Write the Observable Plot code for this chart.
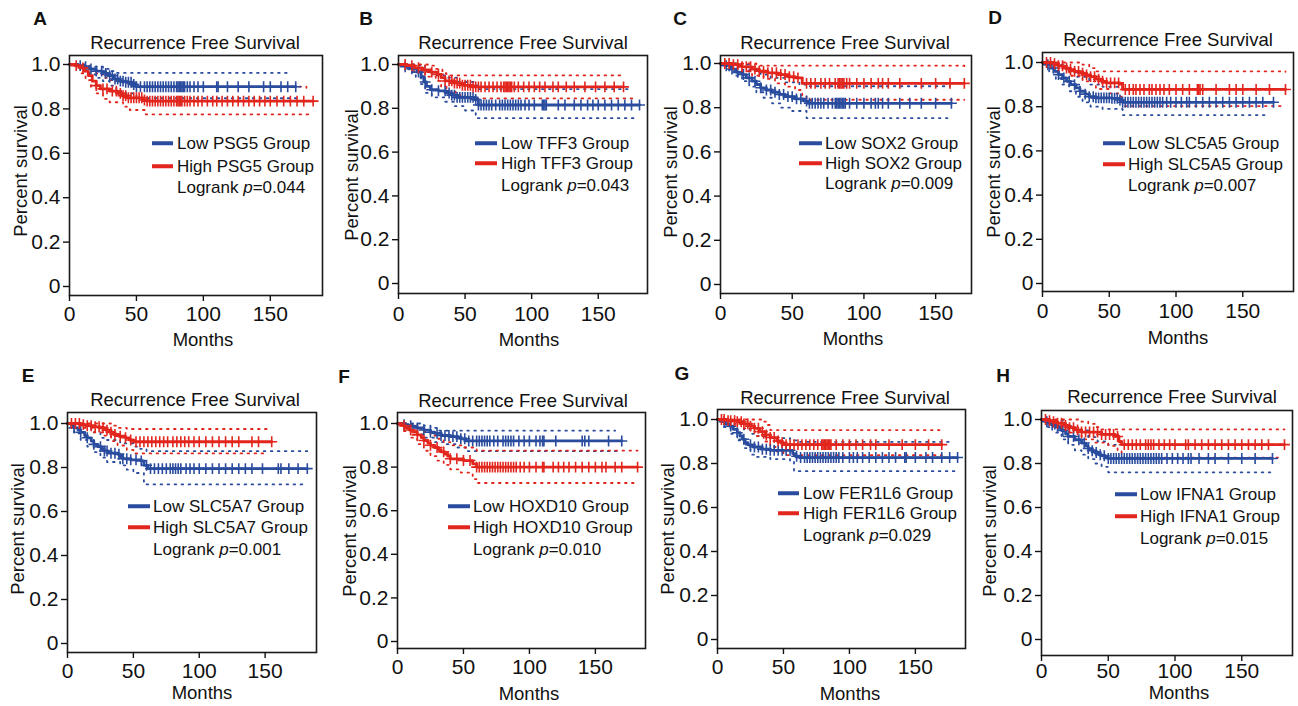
<!DOCTYPE html>
<html><head><meta charset="utf-8">
<script src="https://cdn.jsdelivr.net/npm/d3@7"></script>
<script src="https://cdn.jsdelivr.net/npm/@observablehq/plot@0.6"></script>
<style>
body{margin:0;background:#fff;font-family:"Liberation Sans",Arial,Helvetica,sans-serif;color:#111;}
#root{position:relative;width:1298px;height:706px;overflow:hidden;background:#fff;}
.panel{position:absolute;width:330px;height:356px;}
.panel svg{position:absolute;left:0;top:0;max-width:none;background:transparent;overflow:visible;}
.t{position:absolute;white-space:nowrap;line-height:1;color:#111;}
.c{transform:translate(-50%,-50%);}
.l{transform:translate(0,-50%);}
.rot{transform:translate(-50%,-50%) rotate(-90deg);}
.seg{position:absolute;height:3.5px;transform:translate(0,-50%);}
</style></head>
<body><div id="root"></div>
<script>
// ---------- labels ----------
const panelLetters = ["A","B","C","D","E","F","G","H"];
const geneNames = ["PSG5","TFF3","SOX2","SLC5A5","SLC5A7","HOXD10","FER1L6","IFNA1"];
const pValues = ["0.044","0.043","0.009","0.007","0.001","0.010","0.029","0.015"];
const chartTitle = "Recurrence Free Survival";
const xLabel = "Months";
const yLabel = "Percent survival";
const xTicks = [0, 50, 100, 150];
const xTickLabels = ["0", "50", "100", "150"];
const yTicks = [0, 0.2, 0.4, 0.6, 0.8, 1.0];
const yTickLabels = ["0", "0.2", "0.4", "0.6", "0.8", "1.0"];

// ---------- A: PSG5 ----------
const A_low = [[0,1],[6,0.995],[10,0.99],[15,0.98],[20,0.97],[25,0.96],[29,0.95],[33,0.935],[37,0.925],[42,0.92],[47,0.91],[50,0.9],[169,0.9]];
const A_high = [[0,1],[4,0.995],[8,0.985],[11,0.97],[14,0.95],[17,0.925],[20,0.905],[23,0.89],[30,0.88],[36,0.87],[39,0.86],[43,0.85],[55,0.84],[58,0.835],[182,0.835]];
const A_lowUp = [[0,1],[13,0.99],[25,0.98],[30,0.97],[35,0.962],[164,0.96]];
const A_lowDn = [[0,1],[10,0.97],[15,0.955],[20,0.94],[25,0.925],[30,0.905],[35,0.88],[42,0.87],[50,0.848],[170,0.848]];
const A_highUp = [[0,1],[10,0.995],[15,0.98],[20,0.96],[25,0.94],[30,0.93],[40,0.915],[50,0.9],[177,0.895]];
const A_highDn = [[0,1],[8,0.96],[12,0.93],[16,0.9],[20,0.87],[25,0.845],[30,0.83],[40,0.81],[45,0.795],[57,0.775],[180,0.775]];
const A_lowCens = [8,12,16,20,24,27,30,32,34,36,38,40,42,44,46,48,50,53,56,58,60,62,64,66,68,70,72,74,76,78,80,81,82,83,84,85,86,88,90,93,96,100,110,111,118,126,134,145,150,158,163,169];
const A_highCens = [5,10,20,25,28,32,35,38,40,42,44,46,48,50,52,54,56,58,60,62,64,66,68,70,72,74,76,78,80,81,82,83,84,86,88,90,93,96,99,103,107,110,114,118,122,126,130,134,138,142,146,150,155,160,165,170,175,182];

// ---------- B: TFF3 ----------
const B_low = [[0,1],[5,0.99],[10,0.98],[14,0.965],[17,0.945],[19,0.92],[21,0.9],[24,0.885],[30,0.88],[36,0.87],[40,0.86],[44,0.85],[57,0.84],[60,0.815],[181,0.815]];
const B_high = [[0,1],[6,0.995],[12,0.985],[18,0.975],[24,0.965],[29,0.955],[32,0.94],[35,0.925],[42,0.915],[48,0.905],[55,0.898],[169,0.898]];
const B_lowUp = [[0,1],[15,0.995],[20,0.97],[25,0.95],[35,0.94],[45,0.92],[58,0.905],[60,0.888],[174,0.888]];
const B_lowDn = [[0,1],[8,0.965],[13,0.94],[17,0.91],[20,0.87],[25,0.85],[35,0.83],[42,0.81],[50,0.79],[58,0.755],[178,0.755]];
const B_highUp = [[0,1],[22,0.995],[28,0.98],[33,0.96],[36,0.95],[169,0.95]];
const B_highDn = [[0,1],[10,0.97],[20,0.945],[28,0.925],[32,0.9],[36,0.875],[43,0.86],[50,0.845],[178,0.845]];
const B_lowCens = [5,10,15,20,25,30,35,38,40,42,44,46,48,50,52,54,56,58,60,62,64,66,68,70,73,76,78,80,82,84,86,88,90,92,95,98,102,108,109,110,111,120,125,132,137,142,146,150,155,160,165,170,175,181];
const B_highCens = [5,10,15,20,25,30,35,38,40,42,44,46,48,50,52,54,56,58,60,62,65,68,71,74,77,79,80,81,82,83,84,85,87,90,94,98,102,106,110,116,120,126,132,140,148,155,162,169];

// ---------- C: SOX2 ----------
const C_low = [[0,1],[4,0.99],[7,0.975],[11,0.96],[15,0.95],[18,0.935],[22,0.92],[25,0.905],[28,0.89],[32,0.88],[36,0.87],[41,0.86],[45,0.85],[52,0.84],[58,0.83],[61,0.82],[161,0.82]];
const C_high = [[0,1],[8,0.995],[15,0.985],[22,0.975],[27,0.965],[33,0.958],[40,0.95],[47,0.94],[52,0.935],[57,0.91],[170,0.91]];
const C_lowUp = [[0,1],[12,0.995],[20,0.97],[28,0.95],[35,0.935],[45,0.915],[55,0.905],[60,0.897],[160,0.897]];
const C_lowDn = [[0,1],[6,0.965],[10,0.945],[15,0.92],[20,0.895],[25,0.87],[30,0.845],[36,0.82],[42,0.8],[50,0.785],[60,0.753],[160,0.753]];
const C_highUp = [[0,1],[20,1],[25,0.99],[170,0.988]];
const C_highDn = [[0,1],[8,0.985],[15,0.965],[22,0.945],[30,0.93],[38,0.91],[45,0.895],[52,0.88],[57,0.85],[60,0.836],[170,0.836]];
const C_lowCens = [4,8,12,16,20,24,28,32,35,38,41,44,47,50,53,56,60,62,64,66,68,70,72,75,78,80,81,82,83,84,85,86,87,90,95,100,105,108,110,113,117,125,132,140,150,161];
const C_highCens = [3,6,9,12,15,18,21,24,27,30,33,36,39,42,45,48,51,54,60,63,66,70,73,76,80,82,83,84,85,86,88,90,95,100,105,110,113,117,125,140,150,160,170];

// ---------- D: SLC5A5 ----------
const D_low = [[0,1],[3,0.99],[6,0.975],[9,0.96],[12,0.945],[15,0.93],[18,0.915],[21,0.9],[25,0.885],[28,0.87],[32,0.857],[35,0.845],[40,0.84],[52,0.838],[58,0.83],[60,0.82],[173,0.82]];
const D_high = [[0,1],[8,0.995],[12,0.985],[16,0.975],[20,0.968],[24,0.96],[28,0.952],[32,0.944],[36,0.936],[40,0.925],[44,0.915],[48,0.908],[58,0.902],[60,0.878],[182,0.878]];
const D_lowUp = [[0,1],[10,0.99],[18,0.96],[25,0.935],[35,0.9],[45,0.89],[60,0.88],[173,0.88]];
const D_lowDn = [[0,1],[5,0.96],[10,0.925],[15,0.9],[20,0.87],[25,0.845],[30,0.82],[36,0.8],[45,0.79],[60,0.762],[168,0.762]];
const D_highUp = [[0,1],[25,1],[30,0.99],[35,0.975],[40,0.96],[182,0.958]];
const D_highDn = [[0,1],[10,0.975],[20,0.94],[30,0.915],[40,0.88],[50,0.86],[58,0.845],[60,0.803],[182,0.803]];
const D_lowCens = [4,8,12,16,20,24,28,32,35,38,40,42,44,46,48,50,52,54,56,58,60,62,64,66,68,70,72,74,76,78,80,82,84,86,88,90,93,96,100,104,108,110,115,120,125,130,135,140,145,150,155,160,165,173];
const D_highCens = [3,6,9,12,15,18,21,24,27,30,33,36,39,42,45,48,51,54,57,62,65,68,70,73,76,80,82,85,88,91,95,100,105,110,116,117,118,120,130,140,145,150,160,170,182];

// ---------- E: SLC5A7 ----------
const E_low = [[0,1],[3,0.99],[5,0.98],[8,0.97],[10,0.96],[13,0.945],[15,0.935],[18,0.92],[20,0.905],[23,0.895],[26,0.885],[28,0.875],[31,0.865],[38,0.86],[40,0.85],[42,0.84],[48,0.835],[56,0.83],[58,0.81],[61,0.795],[182,0.795]];
const E_high = [[0,1],[10,0.995],[14,0.99],[20,0.985],[25,0.98],[29,0.97],[32,0.96],[35,0.95],[39,0.942],[44,0.935],[47,0.925],[50,0.917],[155,0.917]];
const E_lowUp = [[0,1],[10,0.99],[18,0.96],[25,0.935],[30,0.925],[40,0.91],[50,0.895],[55,0.885],[60,0.874],[182,0.874]];
const E_lowDn = [[0,1],[5,0.955],[10,0.925],[15,0.895],[20,0.87],[25,0.845],[30,0.825],[40,0.81],[45,0.79],[50,0.775],[58,0.723],[182,0.723]];
const E_highUp = [[0,1],[30,1],[33,0.99],[38,0.98],[45,0.975],[152,0.974]];
const E_highDn = [[0,1],[10,0.98],[20,0.96],[28,0.945],[33,0.92],[38,0.9],[45,0.88],[50,0.864],[152,0.864]];
const E_lowCens = [5,10,15,20,25,28,30,33,36,39,42,45,48,52,56,60,63,66,69,72,75,78,80,82,84,86,90,93,96,100,105,110,115,120,125,130,135,140,148,160,162,168,175,182];
const E_highCens = [3,6,9,12,15,18,21,24,27,30,33,36,40,44,48,52,55,58,61,64,67,70,73,76,80,83,86,89,92,96,100,105,110,115,120,125,130,140,145,155];

// ---------- F: HOXD10 ----------
const F_low = [[0,1],[5,0.995],[8,0.99],[12,0.985],[15,0.98],[20,0.97],[25,0.96],[28,0.955],[33,0.945],[40,0.94],[46,0.935],[48,0.93],[52,0.92],[170,0.92]];
const F_high = [[0,1],[3,0.99],[6,0.98],[9,0.97],[12,0.96],[15,0.948],[18,0.935],[20,0.922],[23,0.91],[25,0.9],[28,0.89],[31,0.88],[33,0.87],[36,0.86],[38,0.85],[40,0.838],[50,0.83],[57,0.815],[60,0.8],[182,0.8]];
const F_lowUp = [[0,1],[15,1],[20,0.99],[25,0.98],[30,0.967],[165,0.967]];
const F_lowDn = [[0,1],[8,0.97],[15,0.95],[20,0.935],[28,0.915],[35,0.905],[45,0.89],[52,0.873],[170,0.873]];
const F_highUp = [[0,1],[8,0.995],[15,0.975],[20,0.96],[25,0.945],[30,0.93],[35,0.915],[40,0.9],[50,0.89],[60,0.876],[182,0.876]];
const F_highDn = [[0,1],[5,0.965],[10,0.935],[15,0.905],[20,0.875],[25,0.85],[30,0.83],[35,0.81],[40,0.79],[48,0.775],[57,0.745],[60,0.727],[182,0.727]];
const F_lowCens = [5,10,15,20,25,30,33,36,39,42,45,48,51,54,57,60,62,64,66,68,70,73,76,80,82,84,86,88,92,96,100,105,108,110,111,120,140,142,145,160,170];
const F_highCens = [5,10,15,20,25,30,35,40,45,50,55,60,62,64,66,68,70,72,74,76,78,80,82,84,86,88,90,93,96,100,105,110,111,118,122,126,130,135,140,145,150,155,158,165,170,182];

// ---------- G: FER1L6 ----------
const G_low = [[0,1],[3,0.99],[6,0.98],[9,0.97],[12,0.955],[15,0.94],[17,0.925],[19,0.91],[21,0.895],[23,0.885],[27,0.875],[33,0.865],[40,0.86],[57,0.845],[59,0.833],[62,0.827],[182,0.827]];
const G_high = [[0,1],[8,0.995],[15,0.99],[20,0.98],[25,0.97],[28,0.96],[32,0.945],[36,0.93],[40,0.918],[45,0.903],[48,0.895],[50,0.886],[170,0.886]];
const G_lowUp = [[0,1],[10,0.995],[15,0.98],[20,0.955],[25,0.935],[30,0.925],[40,0.915],[55,0.905],[60,0.898],[178,0.898]];
const G_lowDn = [[0,1],[5,0.965],[10,0.935],[15,0.905],[20,0.87],[25,0.84],[30,0.83],[40,0.82],[55,0.81],[58,0.765],[182,0.765]];
const G_highUp = [[0,1],[30,1],[35,0.99],[38,0.975],[40,0.952],[170,0.952]];
const G_highDn = [[0,1],[10,0.98],[20,0.96],[25,0.945],[30,0.925],[35,0.9],[40,0.875],[45,0.855],[50,0.838],[170,0.838]];
const G_lowCens = [5,10,15,20,25,28,31,34,37,40,43,46,49,52,55,60,63,66,68,70,72,74,76,78,80,82,84,86,88,90,92,95,100,103,106,110,115,120,125,130,135,142,143,150,158,163,170,176,182];
const G_highCens = [3,5,8,10,13,15,18,20,23,25,28,31,34,37,40,43,46,49,52,55,58,61,64,67,70,73,76,79,80,81,82,83,84,85,86,90,95,100,105,110,116,120,130,140,150,160,170];

// ---------- H: IFNA1 ----------
const H_low = [[0,1],[3,0.99],[5,0.985],[8,0.975],[10,0.968],[13,0.96],[15,0.95],[18,0.935],[20,0.923],[25,0.908],[30,0.893],[33,0.88],[35,0.868],[38,0.858],[40,0.85],[43,0.84],[45,0.835],[48,0.828],[50,0.823],[173,0.823]];
const H_high = [[0,1],[5,0.995],[8,0.99],[12,0.983],[17,0.973],[20,0.963],[25,0.953],[30,0.943],[45,0.932],[55,0.923],[58,0.9],[60,0.886],[182,0.886]];
const H_lowUp = [[0,1],[10,0.995],[18,0.97],[25,0.95],[35,0.92],[42,0.9],[50,0.885],[173,0.885]];
const H_lowDn = [[0,1],[5,0.965],[10,0.94],[15,0.91],[20,0.885],[25,0.86],[30,0.84],[35,0.82],[40,0.8],[45,0.785],[50,0.76],[175,0.76]];
const H_highUp = [[0,1],[25,1],[30,0.99],[35,0.98],[40,0.965],[45,0.955],[182,0.955]];
const H_highDn = [[0,1],[10,0.975],[20,0.94],[30,0.91],[40,0.895],[50,0.88],[57,0.855],[60,0.827],[178,0.827]];
const H_lowCens = [4,8,12,16,20,24,28,32,35,38,41,44,47,50,52,54,56,58,60,62,64,66,68,70,72,74,76,78,80,82,84,86,88,90,94,98,102,106,110,112,118,125,130,140,150,160,173];
const H_highCens = [3,6,9,12,15,18,21,24,27,30,33,36,39,42,45,48,51,54,57,62,65,68,71,74,78,80,82,84,88,92,96,100,108,110,115,120,125,130,135,140,145,150,155,160,165,170,182];

// ---------- assemble ----------
const panelData = [
  {low:A_low, high:A_high, lowUp:A_lowUp, lowDn:A_lowDn, highUp:A_highUp, highDn:A_highDn, lowCens:A_lowCens, highCens:A_highCens},
  {low:B_low, high:B_high, lowUp:B_lowUp, lowDn:B_lowDn, highUp:B_highUp, highDn:B_highDn, lowCens:B_lowCens, highCens:B_highCens},
  {low:C_low, high:C_high, lowUp:C_lowUp, lowDn:C_lowDn, highUp:C_highUp, highDn:C_highDn, lowCens:C_lowCens, highCens:C_highCens},
  {low:D_low, high:D_high, lowUp:D_lowUp, lowDn:D_lowDn, highUp:D_highUp, highDn:D_highDn, lowCens:D_lowCens, highCens:D_highCens},
  {low:E_low, high:E_high, lowUp:E_lowUp, lowDn:E_lowDn, highUp:E_highUp, highDn:E_highDn, lowCens:E_lowCens, highCens:E_highCens},
  {low:F_low, high:F_high, lowUp:F_lowUp, lowDn:F_lowDn, highUp:F_highUp, highDn:F_highDn, lowCens:F_lowCens, highCens:F_highCens},
  {low:G_low, high:G_high, lowUp:G_lowUp, lowDn:G_lowDn, highUp:G_highUp, highDn:G_highDn, lowCens:G_lowCens, highCens:G_highCens},
  {low:H_low, high:H_high, lowUp:H_lowUp, lowDn:H_lowDn, highUp:H_highUp, highDn:H_highDn, lowCens:H_lowCens, highCens:H_highCens}
];

// layout (pixel positions relative to each panel's origin); tp = x tick label padding
const layout = [
  {ox:0,   oy:0,   L:69, R:322, T:55, B:295, y0:286, y1:64, xmax:189, tp:5, title:[195,43], letter:[40,18], ylab:[21,171], xlab:[203,340], leg:[152,173,177,143,166,187]},
  {ox:325, oy:0,   L:73, R:322, T:55, B:293, y0:283, y1:64, xmax:187, tp:7, title:[198,43], letter:[41,18], ylab:[27,175], xlab:[204,340], leg:[150,172,176,143,163,185]},
  {ox:650, oy:0,   L:70, R:321, T:55, B:293, y0:284, y1:63, xmax:175, tp:6, title:[195,43], letter:[30,18], ylab:[21,172], xlab:[203,339], leg:[149,172,175,143,163,183]},
  {ox:970, oy:0,   L:72, R:323, T:52, B:291, y0:283, y1:62, xmax:188, tp:6, title:[198,40], letter:[25,17], ylab:[24,172], xlab:[208,338], leg:[133,155,158,143,164,185]},
  {ox:0,   oy:350, L:67, R:316, T:62, B:302, y0:293, y1:73, xmax:189, tp:5, title:[195,50], letter:[28,25], ylab:[18,179], xlab:[202,343], leg:[128,150,153,156,177,199]},
  {ox:325, oy:350, L:72, R:320, T:62, B:298, y0:291, y1:73, xmax:188, tp:5, title:[198,51], letter:[19,26], ylab:[25,181], xlab:[204,344], leg:[123,145,148,156,177,199]},
  {ox:650, oy:350, L:67, R:315, T:59, B:298, y0:289, y1:69, xmax:188, tp:5, title:[195,48], letter:[32,23], ylab:[18,179], xlab:[200,344], leg:[128,149,153,143,163,185]},
  {ox:970, oy:350, L:71, R:322, T:60, B:305, y0:289, y1:69, xmax:188, tp:2, title:[202,47], letter:[33,25], ylab:[20,181], xlab:[209,343], leg:[145,167,170,144,166,188]}
];

const BLUE = "#2a4c9e";
const RED = "#e2261d";
const PW = 330, PH = 356;
const FONT = "'Liberation Sans', Arial, Helvetica, sans-serif";

function stepAt(curve, t) {
  let v = curve[0][1];
  for (const [tt, s] of curve) { if (tt <= t) v = s; else break; }
  return v;
}

const root = document.getElementById("root");

function addText(parent, txt, x, y, cls, size, extra) {
  const d = document.createElement("div");
  d.className = "t " + cls;
  d.style.left = x + "px";
  d.style.top = y + "px";
  d.style.fontSize = size + "px";
  if (extra) Object.assign(d.style, extra);
  d.innerHTML = txt;
  parent.appendChild(d);
  return d;
}

panelData.forEach((pd, i) => {
  const g = layout[i];
  const panel = document.createElement("div");
  panel.className = "panel";
  panel.style.left = g.ox + "px";
  panel.style.top = g.oy + "px";
  root.appendChild(panel);

  const ci = (data, color) => Plot.line(data, {x: d => d[0], y: d => d[1], curve: "step-after", stroke: color, strokeWidth: 1.8, strokeDasharray: "1.6,5.4"});
  const km = (data, color) => Plot.line(data, {x: d => d[0], y: d => d[1], curve: "step-after", stroke: color, strokeWidth: 2.8});
  const cens = (times, curve, color) => Plot.dot(times, {x: d => d, y: d => stepAt(curve, d), symbol: "plus", r: 3.6, stroke: color, strokeWidth: 1.6});

  const chart = Plot.plot({
    width: PW, height: PH,
    marginLeft: g.L, marginRight: PW - g.R, marginTop: g.T, marginBottom: PH - g.B,
    style: {background: "transparent", fontFamily: FONT, fontSize: "21px", color: "#111", overflow: "visible"},
    x: {domain: [0, g.xmax]},
    y: {domain: [0, 1], range: [g.y0, g.y1]},
    marks: [
      ci(pd.lowUp, BLUE), ci(pd.lowDn, BLUE), ci(pd.highUp, RED), ci(pd.highDn, RED),
      km(pd.low, BLUE), cens(pd.lowCens, pd.low, BLUE),
      km(pd.high, RED), cens(pd.highCens, pd.high, RED),
      Plot.frame({stroke: "#1a1a1a", strokeWidth: 1.6}),
      Plot.axisY(yTicks, {tickSize: 6, tickPadding: 3, tickFormat: d => yTickLabels[yTicks.indexOf(d)], label: null, strokeWidth: 1.4, fontSize: 21, fontFamily: FONT}),
      Plot.axisX(xTicks, {tickSize: 6, tickPadding: g.tp, tickFormat: d => xTickLabels[xTicks.indexOf(d)], label: null, strokeWidth: 1.4, fontSize: 21, fontFamily: FONT})
    ]
  });
  panel.appendChild(chart);

  addText(panel, panelLetters[i], g.letter[0], g.letter[1], "c", 19, {fontWeight: "bold"});
  addText(panel, chartTitle, g.title[0], g.title[1], "c", 18.5);
  addText(panel, yLabel, g.ylab[0], g.ylab[1], "rot", 18.5);
  addText(panel, xLabel, g.xlab[0], g.xlab[1], "c", 18.5);

  const [lx0, lx1, tx, ly1, ly2, ly3] = g.leg;
  [[BLUE, ly1, "Low " + geneNames[i] + " Group"], [RED, ly2, "High " + geneNames[i] + " Group"]].forEach(([col, yy, label]) => {
    const s = document.createElement("div");
    s.className = "seg";
    s.style.left = lx0 + "px"; s.style.width = (lx1 - lx0) + "px"; s.style.top = yy + "px"; s.style.background = col;
    panel.appendChild(s);
    addText(panel, label, tx, yy, "l", 17);
  });
  addText(panel, "Logrank <i>p</i>=" + pValues[i], tx, ly3, "l", 17);
});
</script>
</body></html>
